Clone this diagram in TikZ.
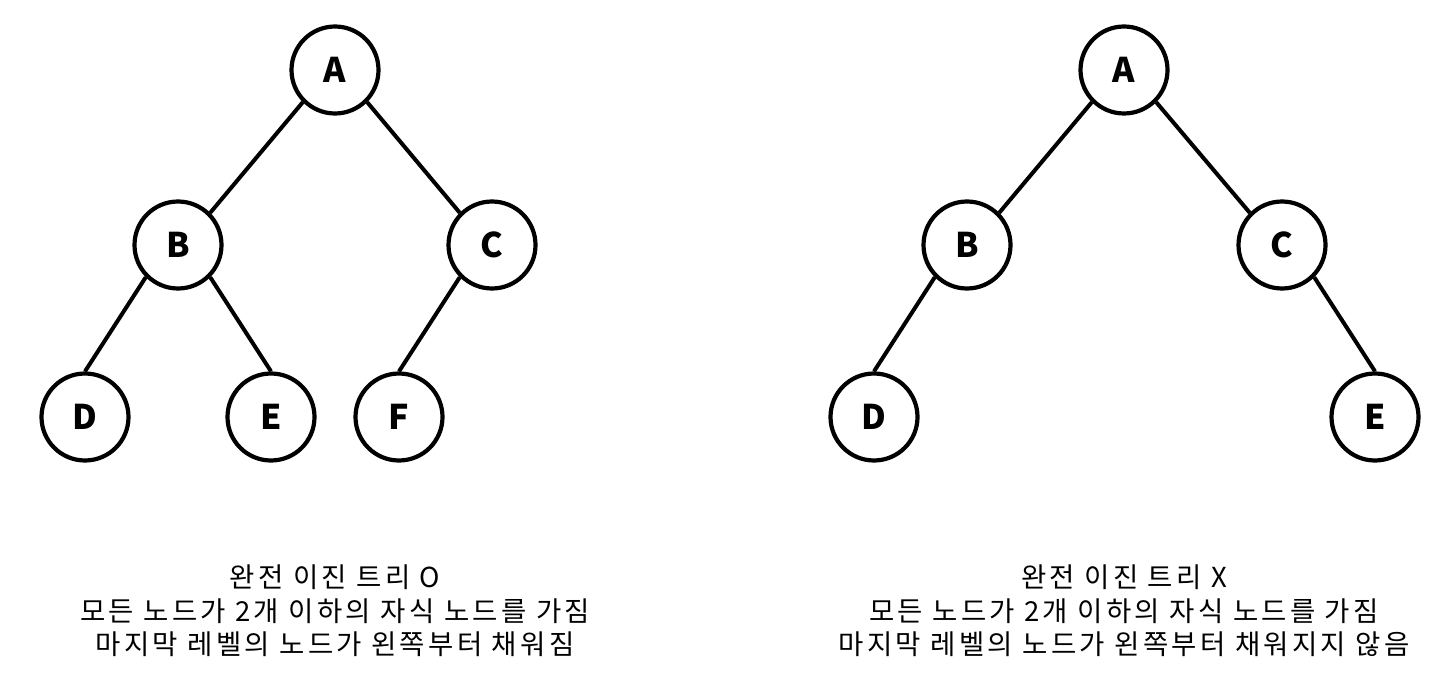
\documentclass[tikz,border=0pt]{standalone}
\usepackage{fontspec}
\setmainfont{Noto Sans CJK KR}
\newfontfamily\capfont[LetterSpace=12]{Noto Sans CJK KR}
\begin{document}
\begin{tikzpicture}[x=1pt,y=-1pt,
  tn/.style={circle,draw,line width=4.2pt,minimum size=87pt,inner sep=0pt,font=\fontsize{34}{34}\selectfont\bfseries},
  ed/.style={line width=4pt},
  captxt/.style={align=center,font=\capfont\fontsize{27.5}{33.5}\selectfont}]
\useasboundingbox (0,0) rectangle (1455,684);
% left tree
\node[tn] (A1) at (335,70) {A};
\node[tn] (B1) at (178,245) {B};
\node[tn] (C1) at (492,245) {C};
\node[tn] (D1) at (85,417) {D};
\node[tn] (E1) at (271,417) {E};
\node[tn] (F1) at (399,417) {F};
\draw[ed] (A1.south west) -- (B1.north east);
\draw[ed] (A1.south east) -- (C1.north west);
\draw[ed] (B1.south west) -- (D1.north);
\draw[ed] (B1.south east) -- (E1.north);
\draw[ed] (C1.south west) -- (F1.north);
\node[captxt] (T1) at (335,611) {완전 이진 트리 O\\모든 노드가 2개 이하의 자식 노드를 가짐\\마지막 레벨의 노드가 왼쪽부터 채워짐};
% right tree
\node[tn] (A2) at (1124,70) {A};
\node[tn] (B2) at (967,245) {B};
\node[tn] (C2) at (1282,245) {C};
\node[tn] (D2) at (874,417) {D};
\node[tn] (E2) at (1375,417) {E};
\draw[ed] (A2.south west) -- (B2.north east);
\draw[ed] (A2.south east) -- (C2.north west);
\draw[ed] (B2.south west) -- (D2.north);
\draw[ed] (C2.south east) -- (E2.north);
\node[captxt] (T2) at (1124,611) {완전 이진 트리 X\\모든 노드가 2개 이하의 자식 노드를 가짐\\마지막 레벨의 노드가 왼쪽부터 채워지지 않음};
\end{tikzpicture}
\end{document}
